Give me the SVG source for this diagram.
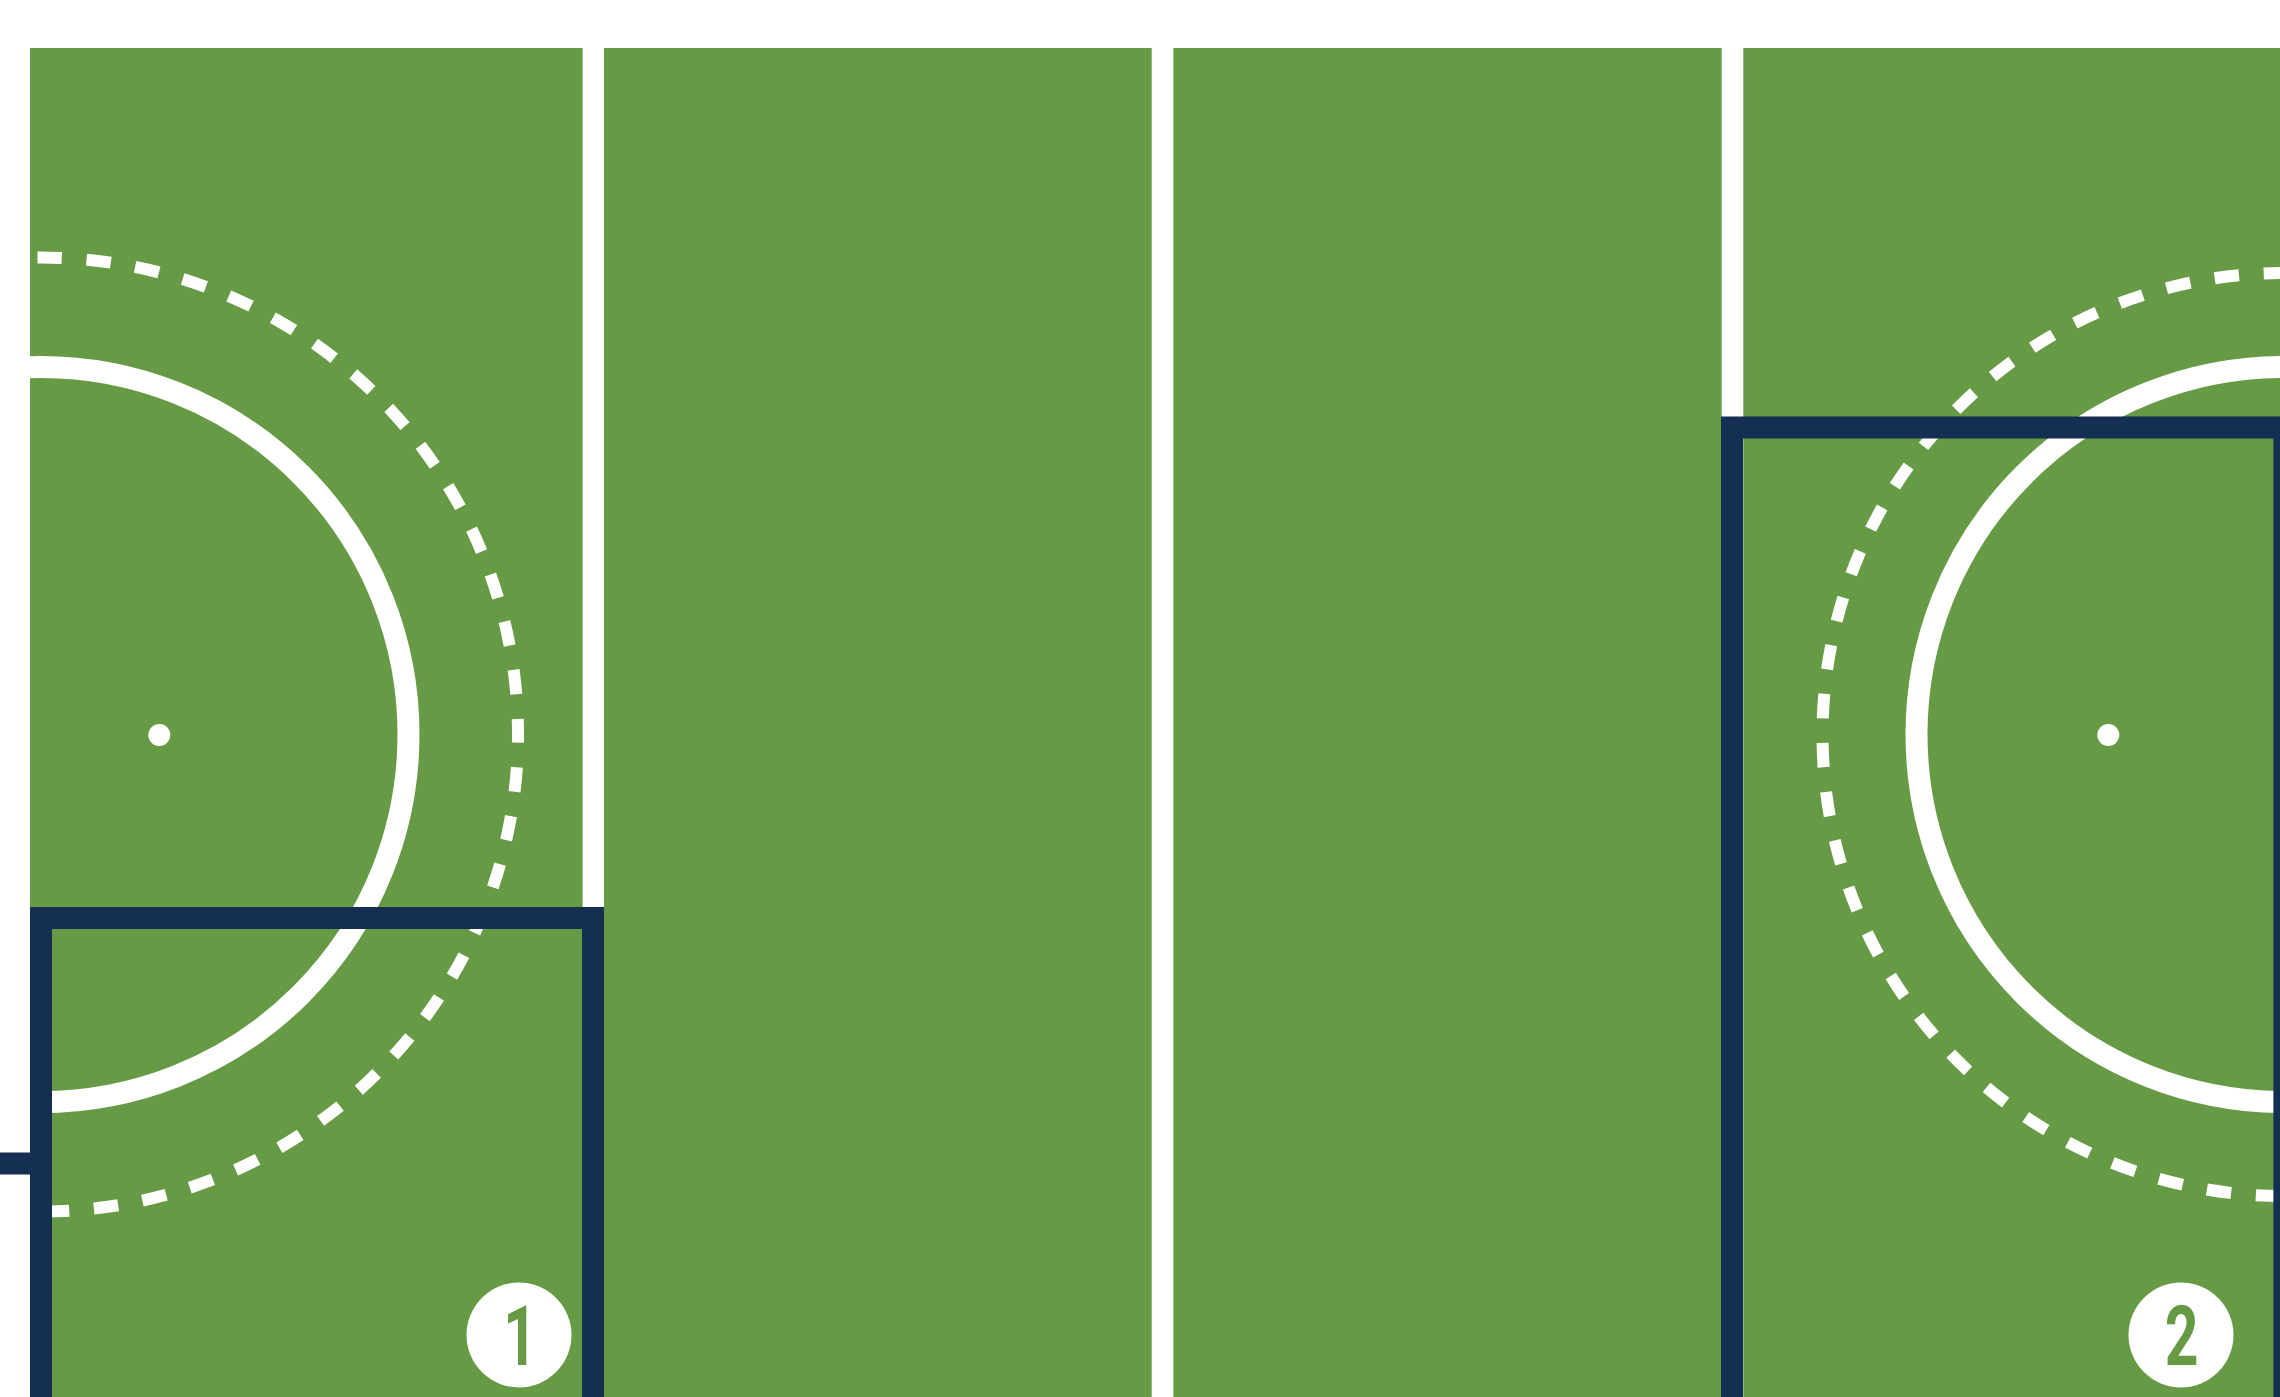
<svg xmlns="http://www.w3.org/2000/svg" width="2280" height="1397" viewBox="0 0 2280 1397">
  <style>
    .field { fill: #669A45; }
    .line { fill: #FFFFFF; }
    .solid { fill: none; stroke: #FFFFFF; stroke-width: 22; }
    .dashed { fill: none; stroke: #FFFFFF; stroke-width: 12; }
    .spot { fill: #FFFFFF; }
    .zone { fill: none; stroke: #152F52; stroke-width: 22; }
    .navy { fill: #152F52; }
    .badge { fill: #FFFFFF; }
    .num { font-family: Roboto, "Liberation Sans", sans-serif; font-weight: 700; font-size: 84px; fill: #669A45; text-anchor: middle; }
  </style>
  <defs>
    <clipPath id="fieldClip">
      <rect x="30" y="48" width="2250" height="1349"/>
    </clipPath>
  </defs>
  <rect x="0" y="0" width="2280" height="1397" fill="#FFFFFF"/>

  <g id="field">
    <rect class="field" x="30" y="48" width="2250" height="1349"/>
    <rect class="line" x="582.6" y="48" width="21.4" height="1349"/>
    <rect class="line" x="1151.7" y="48" width="21.7" height="1349"/>
    <rect class="line" x="1721.7" y="48" width="21.6" height="1349"/>
  </g>

  <g id="circle-left" clip-path="url(#fieldClip)">
    <circle class="solid" cx="41" cy="734.5" r="367.5"/>
    <circle class="dashed" cx="41" cy="734.5" r="477" stroke-dasharray="24.5 24.633" stroke-dashoffset="16.25"/>
    <circle class="spot" cx="159.3" cy="735" r="11"/>
  </g>

  <g id="circle-right" clip-path="url(#fieldClip)">
    <circle class="solid" cx="2284" cy="734.5" r="367.5"/>
    <circle class="dashed" cx="2284" cy="734.5" r="461.5" stroke-dasharray="24.5 24.647" stroke-dashoffset="8.56"/>
    <circle class="spot" cx="2108.3" cy="735" r="11"/>
  </g>

  <g id="connectors">
    <rect class="navy" x="0" y="1152.5" width="41" height="22"/>
  </g>

  <g id="zone-1">
    <rect class="zone" x="41" y="918" width="552" height="520"/>
    <circle class="badge" cx="519" cy="1335" r="52.5"/>
    <text class="num" transform="translate(520,1365) scale(0.7,1)" x="0" y="0">1</text>
  </g>

  <g id="zone-2">
    <rect class="zone" x="1732" y="427.5" width="552.4" height="1010"/>
    <circle class="badge" cx="2181" cy="1335" r="52.5"/>
    <text class="num" transform="translate(2181.5,1365) scale(0.7,1)" x="0" y="0">2</text>
  </g>
</svg>
